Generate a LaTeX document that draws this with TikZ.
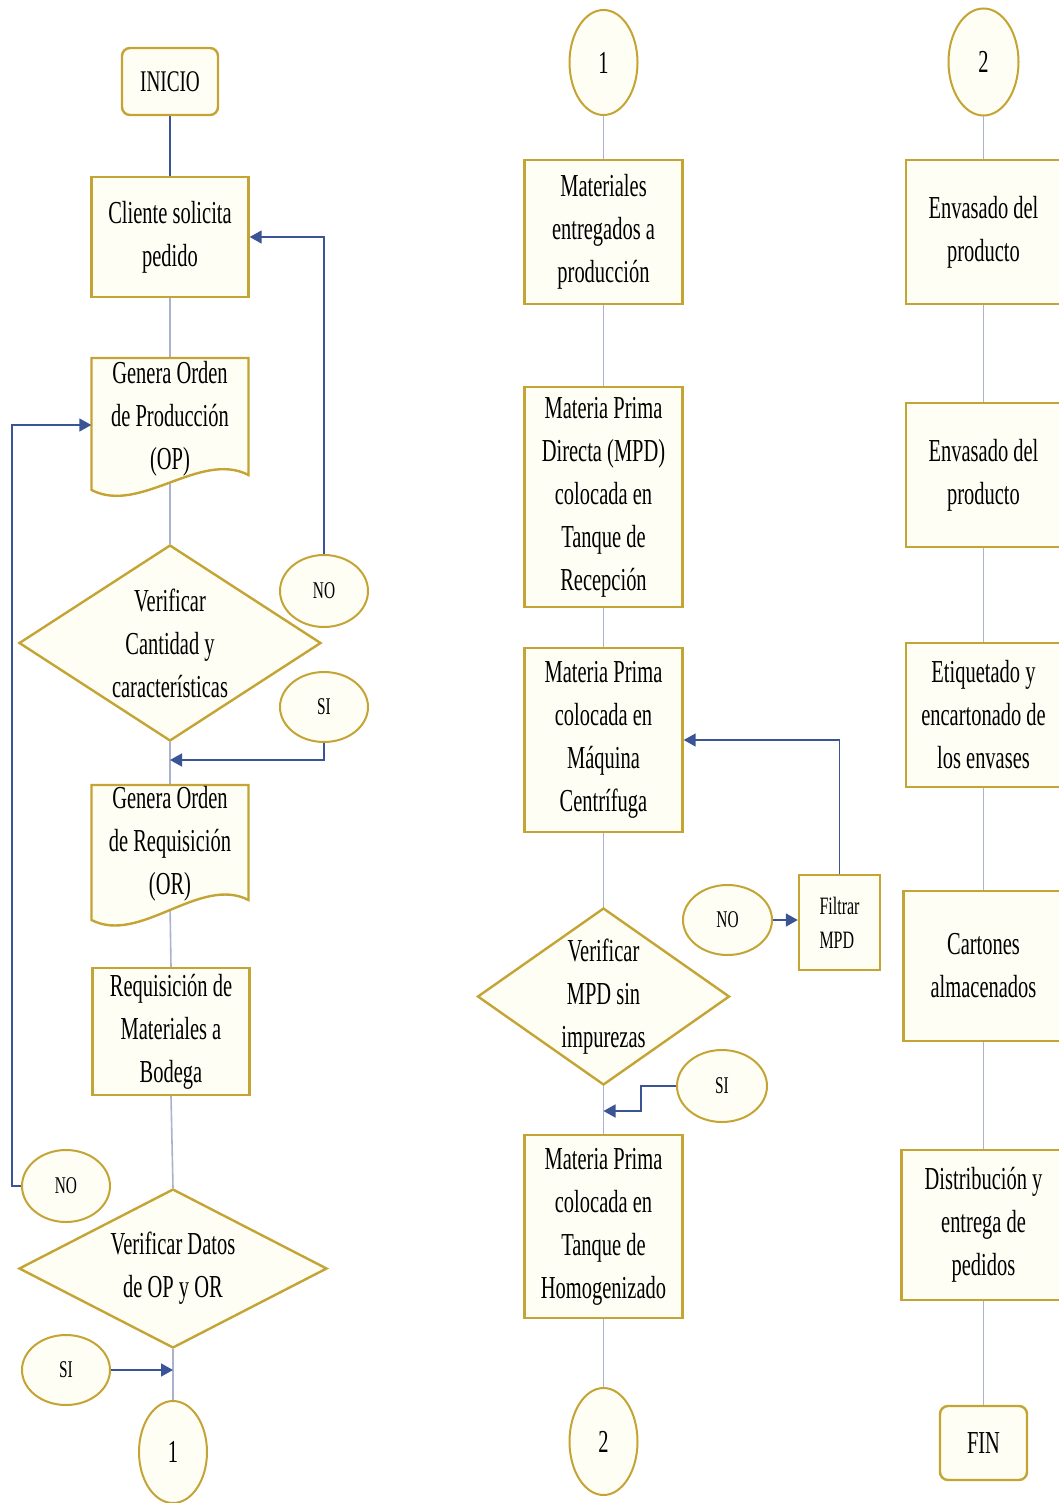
\documentclass[tikz,border=0pt]{standalone}
\usepackage{fontspec}
\setmainfont[FakeStretch=0.64]{Liberation Serif}
\usetikzlibrary{shapes.geometric,arrows.meta,backgrounds}

\definecolor{gold}{RGB}{196,164,52}
\definecolor{cream}{RGB}{255,254,244}
\definecolor{conn}{RGB}{170,178,205}
\definecolor{arr}{RGB}{58,84,150}

\tikzset{
  base/.style={draw=gold, line width=2.4pt, fill=cream, inner sep=0pt, align=center,
    font=\fontsize{32}{43}\selectfont},
  procbox/.style={base, rectangle},
  term/.style={base, rectangle, rounded corners=8pt},
  circ/.style={base, ellipse, line width=2pt},
  lbl/.style={circ, font=\fontsize{24}{30}\selectfont},
  dia/.style={base, diamond},
  docsh/.style={draw=gold, line width=2.4pt, fill=cream},
  txt/.style={align=center, inner sep=0pt, font=\fontsize{32}{43}\selectfont},
  flow/.style={draw=conn, line width=1.6pt},
  darkflow/.style={draw=arr, line width=2pt},
  yes/.style={draw=arr, line width=1.6pt, -{Triangle[length=12pt,width=13pt]}},
}

\begin{document}
\begin{tikzpicture}[x=1pt,y=-1pt]
\clip (0,0) rectangle (1059,1503);
\begin{pgfonlayer}{background}
  \fill[white] (0,0) rectangle (1059,1503);
\end{pgfonlayer}

% ---------------- Column 1 ----------------
\node[term, minimum width=96pt, minimum height=67pt, font=\fontsize{30}{43}\selectfont] (inicio) at (170,81.5) {INICIO};
\node[procbox, minimum width=157pt, minimum height=120pt] (cliente) at (170,237) {Cliente solicita\\pedido};

\draw[docsh] (91.5,358) -- (248.5,358) -- (248.5,475) .. controls (200,450) and (140,515) .. (91.5,490) -- cycle;
\node[txt, minimum width=157pt, minimum height=122pt] (op) at (170,419) {Genera Orden\\de Producción\\(OP)};

\node[dia, minimum width=302pt, minimum height=196pt] (d1) at (170,643) {};
\node[txt] (d1t) at (d1) {Verificar\\Cantidad y\\características};

\node[lbl, minimum width=88pt, minimum height=72pt] (no1) at (324,591) {NO};
\node[lbl, minimum width=88pt, minimum height=70pt] (si1) at (324,707) {SI};

\draw[docsh] (91.5,785) -- (248.5,785) -- (248.5,900) .. controls (200,875) and (140,945) .. (91.5,920) -- cycle;
\node[txt, minimum width=157pt, minimum height=118pt] (or) at (170,844) {Genera Orden\\de Requisición\\(OR)};

\node[procbox, minimum width=157pt, minimum height=127pt] (req) at (171,1031.5) {Requisición de\\Materiales a\\Bodega};

\node[dia, minimum width=308pt, minimum height=159pt] (d2) at (173,1268.5) {};
\node[txt] (d2t) at (d2) {Verificar Datos\\de OP y OR};

\node[lbl, minimum width=88pt, minimum height=72pt] (no2) at (66,1186) {NO};
\node[lbl, minimum width=88pt, minimum height=70pt] (si2) at (66,1370) {SI};
\node[circ, minimum width=68pt, minimum height=102pt] (c1b) at (173,1452) {1};

% ---------------- Column 2 ----------------
\node[circ, minimum width=68pt, minimum height=105pt] (c1) at (603.5,62.5) {1};
\node[procbox, minimum width=158pt, minimum height=144pt] (mat) at (603.5,232) {Materiales\\entregados a\\producción};
\node[procbox, minimum width=158pt, minimum height=220pt] (mpd) at (603.5,497) {Materia Prima\\Directa (MPD)\\colocada en\\Tanque de\\Recepción};
\node[procbox, minimum width=158pt, minimum height=184pt] (maq) at (603.5,740) {Materia Prima\\colocada en\\Máquina\\Centrífuga};

\node[dia, minimum width=252pt, minimum height=177pt] (d3) at (603.5,996.5) {};
\node[txt] (d3t) at (d3) {Verificar\\MPD sin\\impurezas};

\node[lbl, minimum width=89pt, minimum height=70pt] (no3) at (727.5,920) {NO};
\node[procbox, minimum width=81pt, minimum height=95pt, align=left,
      font=\fontsize{25}{34}\selectfont] (filt) at (839.5,922.5) {Filtrar\\MPD};
\node[lbl, minimum width=90pt, minimum height=72pt] (si3) at (722,1086) {SI};

\node[procbox, minimum width=158pt, minimum height=183pt] (hom) at (603.5,1226.5) {Materia Prima\\colocada en\\Tanque de\\Homogenizado};
\node[circ, minimum width=68pt, minimum height=107pt] (c2b) at (603.5,1441.5) {2};

% ---------------- Column 3 ----------------
\node[circ, minimum width=70pt, minimum height=107pt] (c2) at (983.5,62) {2};
\node[procbox, minimum width=155pt, minimum height=144pt] (env1) at (983.5,232) {Envasado del\\producto};
\node[procbox, minimum width=155pt, minimum height=144pt] (env2) at (983.5,475) {Envasado del\\producto};
\node[procbox, minimum width=155pt, minimum height=144pt] (eti) at (983.5,715) {Etiquetado y\\encartonado de\\los envases};
\node[procbox, minimum width=160pt, minimum height=150pt] (cart) at (983.5,966) {Cartones\\almacenados};
\node[procbox, minimum width=164pt, minimum height=150pt] (dist) at (983.5,1225) {Distribución y\\entrega de\\pedidos};
\node[term, minimum width=87pt, minimum height=74pt] (fin) at (983.5,1443) {FIN};

% junction coordinates
\coordinate (j1) at (170,760);
\coordinate (k2) at (12,425);
\coordinate (b3) at (641,1111);
\coordinate (j3) at (603.5,1111);

% ---------------- Connectors ----------------
\begin{pgfonlayer}{background}
  \draw[darkflow] (inicio.south) -- (cliente.north);
  \draw[flow] (cliente.south) -- (op.north);
  \draw[flow] (op.south) -- (d1.north);
  \draw[flow] (d1.south) -- (or.north);
  \draw[flow] (or.south) -- (req.north);
  \draw[flow] (req.south) -- (d2.north);
  \draw[flow] (d2.south) -- (c1b.north);

  \draw[flow] (c1.south) -- (mat.north);
  \draw[flow] (mat.south) -- (mpd.north);
  \draw[flow] (mpd.south) -- (maq.north);
  \draw[flow] (maq.south) -- (d3.north);
  \draw[flow] (d3.south) -- (hom.north);
  \draw[flow] (hom.south) -- (c2b.north);

  \draw[flow] (c2.south) -- (env1.north);
  \draw[flow] (env1.south) -- (env2.north);
  \draw[flow] (env2.south) -- (eti.north);
  \draw[flow] (eti.south) -- (cart.north);
  \draw[flow] (cart.south) -- (dist.north);
  \draw[flow] (dist.south) -- (fin.north);
\end{pgfonlayer}

\draw[yes] (no1.north) |- (cliente.east);
\draw[yes] (si1.south) |- (j1);
\draw[yes] (no2.west) -| (k2) -- (k2 -| op.west);
\draw[yes] (si2.east) -- (si2.east -| d2.south);
\draw[yes] (no3.east) -- (no3.east -| filt.west);
\draw[yes] (filt.north) |- (maq.east);
\draw[yes] (si3.west) -| (b3) -- (j3);
\end{tikzpicture}
\end{document}
